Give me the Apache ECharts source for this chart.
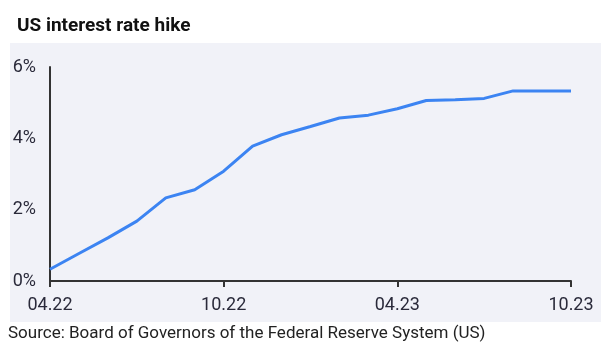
<!DOCTYPE html>
<html>
<head>
<meta charset="utf-8">
<script src="https://cdn.jsdelivr.net/npm/echarts@6/dist/echarts.min.js"></script>
<style>
html,body{margin:0;padding:0;background:#ffffff;}
#chart{width:610px;height:356px;}
</style>
</head>
<body>
<div id="chart"></div>
<script>
const months = ["04.22","05.22","06.22","07.22","08.22","09.22","10.22","11.22","12.22","01.23","02.23","03.23","04.23","05.23","06.23","07.23","08.23","09.23","10.23"];
const rates = [0.33,0.77,1.21,1.68,2.33,2.56,3.08,3.78,4.10,4.33,4.57,4.65,4.83,5.06,5.08,5.12,5.33,5.33,5.33];
const yTicks = [0,2,4,6];
const titleText = "US interest rate hike";
const sourceText = "Source: Board of Governors of the Federal Reserve System (US)";

const chart = echarts.init(document.getElementById('chart'), null, {renderer:'canvas'});
chart.setOption({
  animation:false,
  backgroundColor:'#ffffff',
  title:{
    text:titleText, left:12, top:12,
    textStyle:{fontFamily:'Roboto', fontSize:19, fontWeight:'bold', color:'#111111'}
  },
  graphic:[
    {type:'rect', z:-10, shape:{x:10,y:43,width:591,height:279}, style:{fill:'#f1f2f8'}},
    {type:'text', left:8, top:325, style:{text:sourceText, fontFamily:'Roboto', fontSize:17, fill:'#222222'}}
  ],
  grid:{left:50, right:39, top:67, bottom:75},
  xAxis:{
    type:'category', data:months, boundaryGap:false,
    axisLine:{lineStyle:{color:'#333333', width:2}},
    axisTick:{show:true, interval:5, length:6, lineStyle:{color:'#333333', width:2}},
    axisLabel:{interval:5, fontFamily:'Roboto', fontSize:18, color:'#2a2a3a', margin:15},
    splitLine:{show:false}
  },
  yAxis:{
    type:'value', min:yTicks[0], max:yTicks[yTicks.length-1], interval:2,
    axisLine:{show:true, lineStyle:{color:'#333333', width:2}},
    axisTick:{show:false},
    splitLine:{show:false},
    axisLabel:{formatter:v=>v+'%', fontFamily:'Roboto', fontSize:18, color:'#2a2a3a', margin:14}
  },
  series:[{
    type:'line', data:rates, showSymbol:false, symbol:'none',
    lineStyle:{color:'#3c84f2', width:3}
  }]
});
</script>
</body>
</html>
